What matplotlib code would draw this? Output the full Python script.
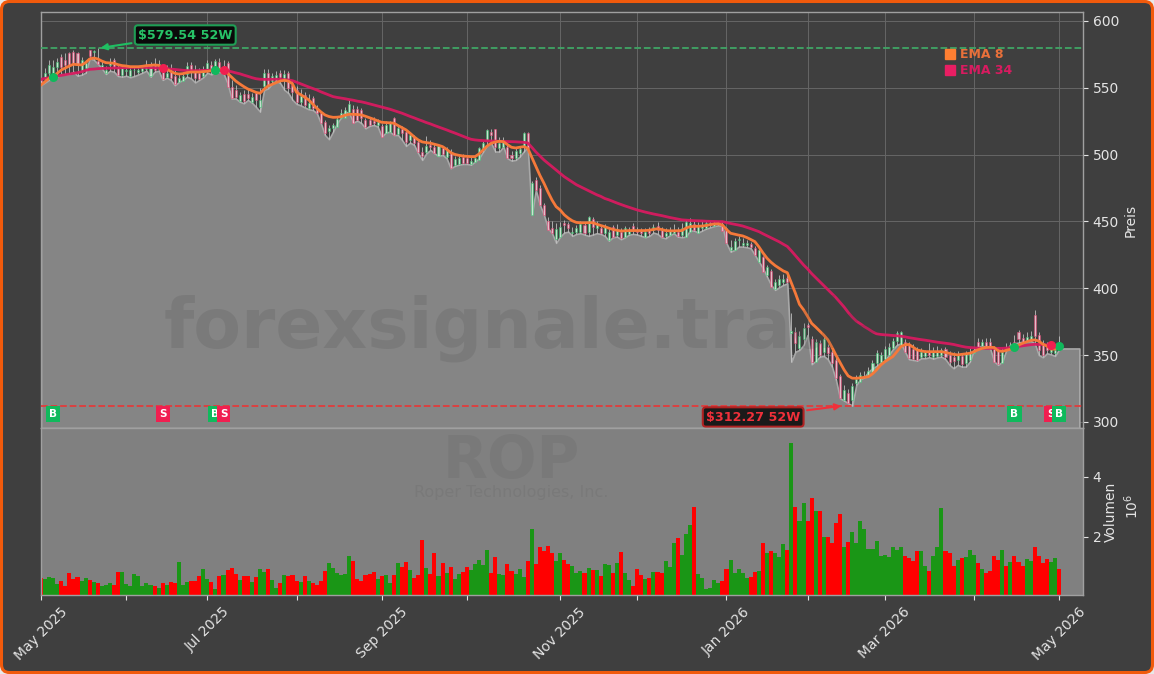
"""Price and volume chart for ROP with EMA lines and 52 week levels."""

import matplotlib
matplotlib.use("Agg")
import matplotlib.pyplot as plt
from matplotlib.lines import Line2D
from matplotlib.patches import FancyBboxPatch

month_ticks = [0, 21, 41, 63, 84, 105, 128, 147, 169, 189, 208, 230, 251]
month_labels = ["May 2025", "", "Jul 2025", "", "Sep 2025", "", "Nov 2025", "",
                "Jan 2026", "", "Mar 2026", "", "May 2026"]

volume = [
    0.62, 0.6, 0.67, 0.63, 0.43, 0.53, 0.37, 0.8, 0.6, 0.67,
    0.53, 0.63, 0.57, 0.5, 0.47, 0.37, 0.4, 0.47, 0.4, 0.83,
    0.83, 0.43, 0.37, 0.77, 0.7, 0.37, 0.47, 0.4, 0.37, 0.3,
    0.47, 0.4, 0.5, 0.47, 1.17, 0.4, 0.5, 0.53, 0.53, 0.7,
    0.93, 0.6, 0.5, 0.27, 0.7, 0.73, 0.9, 0.97, 0.77, 0.57,
    0.7, 0.7, 0.5, 0.67, 0.93, 0.83, 0.93, 0.57, 0.3, 0.47,
    0.73, 0.7, 0.73, 0.53, 0.5, 0.7, 0.53, 0.47, 0.4, 0.53,
    0.87, 1.13, 0.95, 0.8, 0.72, 0.75, 1.35, 1.2, 0.6, 0.55,
    0.72, 0.78, 0.82, 0.6, 0.7, 0.73, 0.47, 0.73, 1.13, 1.0,
    1.17, 0.9, 0.63, 0.73, 1.9, 0.97, 0.77, 1.47, 0.7, 1.13,
    0.8, 1.0, 0.6, 0.77, 0.83, 1.0, 0.9, 1.1, 1.23, 1.07,
    1.57, 0.8, 1.33, 0.77, 0.73, 1.1, 0.87, 0.77, 0.93, 0.67,
    1.2, 2.27, 1.1, 1.67, 1.53, 1.7, 1.47, 1.2, 1.47, 1.23,
    1.1, 1.03, 0.8, 0.87, 0.8, 0.97, 0.9, 0.9, 0.7, 1.1,
    1.07, 0.8, 1.13, 1.5, 0.8, 0.57, 0.37, 0.93, 0.73, 0.6,
    0.63, 0.83, 0.83, 0.8, 1.2, 1.0, 1.8, 1.97, 1.4, 2.1,
    2.4, 3.0, 0.77, 0.63, 0.27, 0.3, 0.57, 0.47, 0.53, 0.93,
    1.23, 0.8, 0.93, 0.8, 0.63, 0.67, 0.83, 0.87, 1.8, 1.47,
    1.53, 1.47, 1.33, 1.77, 1.57, 5.13, 3.0, 2.53, 3.13, 2.53,
    3.3, 2.87, 2.87, 2.0, 2.0, 1.8, 2.47, 2.77, 1.67, 1.83,
    2.17, 1.8, 2.53, 2.27, 1.6, 1.6, 1.87, 1.37, 1.4, 1.33,
    1.67, 1.57, 1.67, 1.37, 1.3, 1.2, 1.53, 1.53, 1.03, 0.87,
    1.37, 1.67, 2.97, 1.53, 1.47, 1.03, 1.23, 1.3, 1.33, 1.57,
    1.4, 1.13, 0.93, 0.8, 0.87, 1.37, 1.23, 1.57, 1.03, 1.17,
    1.37, 1.17, 1.03, 1.27, 1.2, 1.67, 1.37, 1.13, 1.27, 1.17,
    1.3, 0.93,
]

# g = up day, r = down day
direction = (
    "rggggrrrrr" "ggrgrgggrr" "ggggggggrg" "rgrrgggrrr" "ggrgrgrrrg"
    "rrgrggrggr" "grrrgrgrrr" "rggggggrrr" "rrrg"
    "rggrgrrgrr" "rgrrgrgrgg" "rrgggggrrg" "grrgggrgrr" "rrrggrrggg"
    "rgrgrggrgr" "ggrrrgrgrr" "gggrgggrgg" "ggggrrgggg" "grrgrgrggg"
    "rgrggrrgrg" "rrrrgrgggg" "gggggggggr" "rrrggrgggr" "rrgrgggrgr"
    "rrrgrgrrrg" "grrrrggr"
)

lows = [
    552, 554, 556, 556.4, 558.3, 560.3, 559.8, 560.3, 562, 559,
    559.8, 561.3, 572, 571, 568, 564.6, 560.3, 562.8, 562, 558.8,
    558.3, 559, 557.9, 558.8, 560, 561.3, 562.8, 558.3, 562, 562.8,
    555.9, 557.6, 555.9, 551.9, 554.4, 555.9, 558.3, 557, 554, 555.9,
    557.9, 561.3, 560, 562, 562, 560.8, 553.4, 542, 542, 539.6,
    538.4, 540.9, 538.9, 535.7, 532.2, 548.4, 549.6, 553.4, 555.4, 553.4,
    548.4, 546, 541, 537.9, 536.9, 535.4, 533.9, 533.4, 531, 523.5,
    514.7, 511.5, 517.2, 523.5, 527.9, 532.2, 531, 524, 525.5, 523.5,
    519.7, 521.5, 522.2, 521, 513.5, 516.5, 517.2, 514.7, 514.7, 511,
    506.5, 509, 507.2, 501, 496, 501, 503.5, 501, 499, 499.8,
    497.3, 489.8, 491.5, 492.5, 493, 493, 492.5, 494.8, 497.3, 502.3,
    507.2, 508.5, 502.3, 502.3, 506, 497.3, 495.5, 496, 498.5, 502.3,
    506, 454.9, 473.6, 462.4, 454.9, 444.9, 441.2, 434, 438.7, 441.7,
    442.4, 439.2, 440.7, 441.2, 440.2, 439.2, 440.2, 441.2, 440.7, 439.2,
    435.7, 438.2, 438.7, 436.7, 438.2, 440.2, 440.7, 440.2, 439.2, 438.2,
    439.2, 441.7, 440.7, 438.2, 437.4, 439.7, 441.2, 438.7, 438.2, 438.7,
    443.2, 443.2, 441.7, 443.2, 444.7, 445.6, 446.6, 447.1, 446.6, 433.7,
    427.4, 428.7, 431.2, 431.2, 430.7, 429.9, 424.9, 420, 415, 408.7,
    402.5, 398.8, 400.8, 402.5, 403.7, 345.1, 352.6, 353.9, 357.6, 365,
    343.2, 345.7, 348.9, 349.4, 346.9, 341.4, 331.4, 317.7, 316, 314,
    312.3, 327.7, 332, 333.4, 337.7, 340.2, 341.9, 344.4, 345.9, 350.1,
    354.4, 357.6, 358.9, 352.6, 346.9, 346.4, 345.9, 347.7, 347.7, 348.4,
    347.4, 348.4, 348.9, 346.9, 342.7, 340.2, 342.7, 341.4, 341.4, 345.2,
    353.9, 356.4, 356.9, 356.4, 355.1, 345.2, 342.7, 345.2, 353.9, 357.6,
    358.9, 359.4, 360.1, 360.1, 360.6, 358.9, 350.1, 348.4, 351.4, 350.6,
    349.4, 354.4,
]
# flat stretch of the area after the last bar
area_tail = [355, 355, 355, 355, 355]

body_low = [
    553, 558.3, 560.8, 560.8, 565.8, 565.8, 567, 567, 568.3, 567,
    562, 564.6, 573.5, 576.5, 568, 565, 561, 566.8, 565.8, 559.6,
    559.6, 562.4, 559, 563, 562, 562.5, 564, 559, 563, 564,
    556.3, 558.3, 557.3, 552.5, 554.6, 555.3, 560, 563.3, 557, 556.5,
    559, 563.8, 563.3, 563, 563, 562, 550.8, 542, 543, 540.4,
    540.4, 542, 539.6, 540.9, 536, 551.3, 552, 555, 554.6, 558,
    556.5, 549.6, 547, 539, 539, 537, 535, 534.7, 531.4, 524,
    516, 518, 519.7, 520.5, 527.2, 527.2, 532.2, 524, 526, 527.2,
    520.5, 522.2, 523.5, 522.2, 513.5, 516, 517.2, 514.7, 515.2, 516,
    509.7, 511, 509, 501.8, 499, 501.8, 505.5, 501.5, 499, 500.5,
    498.5, 489.8, 492.3, 493, 493.5, 494, 493, 494.8, 496, 503.5,
    511, 514.7, 506, 504.8, 506, 497.3, 497.3, 497.3, 501, 506,
    504.8, 454.9, 473.6, 462.4, 454.9, 443.6, 441.2, 436.7, 438.7, 447.4,
    444.9, 441.2, 442.4, 442.4, 441.2, 442.4, 445.6, 444.9, 441.2, 441.2,
    436.2, 438.7, 439.9, 437.4, 438.7, 440.7, 443.7, 442.4, 441.7, 438.2,
    441.2, 443.7, 443.7, 438.7, 439.2, 439.9, 441.2, 439.2, 439.9, 438.7,
    442.4, 443.7, 441.2, 444.9, 444.9, 447.4, 446.6, 448.1, 443.2, 433.7,
    428.7, 428.7, 436.2, 432.4, 432.7, 431.2, 424.9, 420, 412.5, 410,
    400.8, 399.3, 402.5, 404.5, 405, 366.5, 359.4, 355.1, 361.9, 371.3,
    345.2, 345.2, 350.1, 352.6, 351.4, 344, 332.7, 317.7, 316.5, 314,
    316.5, 329, 330.2, 333.4, 334.4, 337.7, 344.4, 345.2, 347, 350.1,
    355.1, 360.9, 357.6, 352.6, 347.7, 347, 346.4, 348.4, 349, 350.2,
    348.4, 349.4, 350.1, 348.9, 345.2, 345.9, 346.4, 343.4, 343.9, 346.4,
    351.4, 356.4, 357, 356.4, 355.1, 345.2, 343.2, 343.9, 353.9, 355.1,
    357.6, 361.9, 360.1, 360.1, 361.4, 364.4, 353.9, 350.1, 353.9, 352.6,
    351.4, 354.4,
]

body_high = [
    556, 560.8, 567, 565.3, 569.5, 573.3, 570.8, 575.8, 577, 575.8,
    570.8, 568.3, 578, 577.2, 569.7, 567, 563.5, 569.5, 570.8, 565.8,
    564.6, 563, 563.3, 563.5, 563.5, 565, 567, 566, 567, 568,
    563.3, 561.3, 562, 559, 557.6, 559, 566, 567, 563, 561,
    563, 568.3, 567, 570, 569, 566, 568.3, 550.8, 548, 544.6,
    545.4, 545, 542.9, 545.9, 541, 560.8, 561.3, 559, 559.6, 561,
    560, 560.8, 552, 548, 544, 544.5, 538.4, 542.2, 533.9, 531.4,
    524.7, 520.2, 522.2, 526.4, 530.9, 533.4, 537.9, 534.2, 534.2, 533.4,
    525.9, 525.9, 525.5, 524.7, 521.5, 522.2, 523.5, 527.2, 520.2, 519,
    516.7, 514.7, 513, 509.7, 502.3, 506.8, 507.2, 506, 506.5, 504.8,
    503.5, 502.3, 496.8, 497.8, 498.5, 497.3, 495.3, 497.3, 504.8, 508.5,
    518.5, 517.2, 519, 508.5, 509.7, 506, 499.8, 502.8, 504, 516,
    516.5, 478.6, 481, 474.8, 462.4, 450.4, 444.9, 444.2, 445.6, 448.6,
    448.1, 442.4, 444.9, 448.1, 447.4, 453.1, 451.6, 448.1, 444.9, 445.6,
    442.4, 446.1, 443.7, 442.4, 444.9, 443.7, 446.6, 443.2, 443.7, 442.4,
    443.7, 446.1, 446.6, 443.7, 441.2, 443.2, 443.7, 442.4, 444.9, 449.9,
    448.6, 448.1, 447.4, 447.4, 449.1, 449.1, 449.1, 449.1, 448.1, 444.9,
    430.7, 435.7, 437.2, 433.7, 433.7, 432.9, 429.9, 428.7, 423.2, 416.2,
    413.2, 405, 407, 407, 407.5, 368.3, 367.6, 364.3, 370.1, 372.6,
    361.9, 360.1, 358.9, 361.9, 356.4, 352.6, 346.4, 334.4, 324, 321.5,
    327, 332, 335.2, 334.4, 338.2, 343.9, 351.4, 350.1, 354.4, 355.9,
    360.9, 366.4, 367, 360, 357.6, 354.4, 353.9, 352.6, 352.6, 353.4,
    352.6, 353.4, 353.9, 354.4, 350.1, 348.9, 350.1, 349.4, 351.4, 352.6,
    353.9, 360.1, 360.1, 360.1, 360.1, 355.1, 353.9, 352.6, 355.1, 357.6,
    360.1, 367.6, 362.6, 363.4, 364.4, 380, 365.1, 358.9, 356.4, 355.1,
    353.9, 355.9,
]

highs = [
    559, 564.6, 570.8, 570.8, 572, 575, 575.8, 577, 578.3, 577,
    573, 570.8, 578.5, 578, 579.54, 571, 566, 572, 572.5, 567.5,
    566, 566, 565.5, 566, 565, 566.5, 571, 569.5, 572, 571,
    566.5, 567, 568, 563, 561, 562, 569, 569.5, 567, 565,
    566, 570.5, 570, 571.5, 572.5, 571, 570, 556, 552, 547,
    548, 549, 546, 547, 550, 564, 564, 561, 562.5, 563.5,
    563, 562.5, 556, 551, 549, 547, 545, 544, 537, 533,
    526, 522, 524, 528, 534, 536, 541, 537, 536.5, 535,
    527.5, 528, 528, 527, 523, 525, 525.5, 528, 522, 521.5,
    518.5, 517, 515, 511, 505.5, 514, 511, 509, 508, 506.5,
    505.5, 504, 499, 499.5, 500.5, 500, 498, 500, 506, 510,
    519, 519, 519.5, 513, 513, 507.5, 503, 505, 506.5, 517,
    517, 480, 483, 477, 464, 453, 450, 449, 449.5, 451,
    449.5, 446, 447, 450, 449.5, 454, 453.5, 450, 447, 448,
    445, 447, 448, 445, 446.5, 445.5, 449, 446, 445, 445,
    446, 448, 449.5, 446, 445, 446, 448, 446, 449, 451,
    452.5, 450.5, 449.5, 450, 450, 450, 450, 450, 449.5, 446,
    436.2, 438, 439, 438, 436, 435, 431.5, 430.5, 424.5, 417.5,
    414.5, 407, 410, 411, 411, 381.8, 371, 368, 373.8, 374.3,
    364, 362, 361, 364, 358, 355, 349, 336, 328, 325,
    329, 335, 337.5, 338, 341, 346, 354, 352, 357, 359,
    363, 368, 368, 362, 360, 358, 356, 355, 354, 359,
    356, 357, 355.5, 356, 353, 352, 353, 351.5, 353, 355,
    356, 363, 362, 363, 362.5, 357, 356, 355.5, 359, 360,
    365, 369, 366, 367, 368, 383.5, 367, 361, 360, 358,
    356, 364,
]

ema8 = [
    552.1, 554.6, 557.1, 558.8, 560.8, 563.3, 564.8, 566.3, 567.6, 567.3,
    567.1, 568.8, 571.6, 572.3, 571.6, 570, 568.8, 568.6, 568.3, 567.3,
    566.6, 566.3, 565.8, 565.8, 565.8, 566.1, 566.6, 566.8, 567.1, 566.8,
    565.3, 563.8, 562.3, 560.8, 560.3, 560.6, 561.3, 561.8, 561.8, 561.8,
    562.1, 562.3, 562.8, 563.8, 563.8, 563.1, 560.8, 557.9, 555.1, 552.9,
    550.9, 549.1, 547.9, 546.6, 545.9, 548.9, 551.4, 552.6, 553.9, 555.1,
    555.6, 555, 553, 546.6, 544.9, 543, 541, 537.8, 534.7, 532,
    529.7, 528.5, 527.9, 528, 528.4, 529.5, 530.2, 530.2, 530, 529.7,
    528.7, 527.6, 526.5, 525.3, 524.2, 524, 523.8, 523.5, 521.8, 520.2,
    518.5, 516, 513.3, 511, 509.5, 509, 508.6, 507.8, 507, 506,
    504, 501.5, 500.2, 499.5, 499, 498.7, 498.5, 498.5, 500.5, 503.5,
    506.5, 508.5, 509.5, 510, 509.7, 507.5, 505.5, 505, 505.5, 506,
    504.8, 498, 491, 484.5, 478.6, 472, 466, 461.1, 458.6, 455,
    452.5, 450.5, 449.3, 449, 449, 449.1, 449.1, 448, 447, 446.1,
    445, 444, 443.4, 442.9, 443, 443.2, 443.2, 443.2, 443.2, 443.2,
    443.5, 444, 444.6, 444, 443.2, 443, 443, 443.1, 443.2, 445,
    446.1, 446.3, 446.4, 446.6, 447, 447.6, 448.1, 448.2, 447.4, 444,
    441.2, 440.5, 439.8, 439.2, 438, 436.5, 434.9, 431, 426.5, 422.5,
    419.5, 417, 415, 413, 411.7, 404, 396.3, 388, 384, 379,
    373.8, 371, 368, 365, 361.5, 356, 350, 344.5, 339, 334.5,
    332.8, 332.7, 333, 333.4, 333.9, 336, 339, 342.5, 345, 347,
    348.9, 352.5, 356.4, 357.8, 358, 356, 353.9, 353.2, 352.6, 352.6,
    352.6, 352.6, 352.6, 352, 351.3, 350.6, 350.2, 350.6, 351, 351.4,
    352.6, 354, 355.1, 355.7, 355.9, 355.7, 353.2, 352.8, 353.6, 354.4,
    356, 357.5, 358.9, 360, 361, 361.4, 360.5, 358.2, 356.8, 354.5,
    354.5, 356.4,
]

ema34 = [
    556.4, 557, 557.6, 558.3, 558.8, 559.3, 559.8, 560.3, 560.8, 561.3,
    562, 563, 563.8, 564, 564.3, 564.5, 564.6, 564.7, 564.8, 564.9,
    565, 565.1, 565.2, 565.3, 565.3, 565.3, 565.2, 565.1, 565, 564.8,
    564.6, 564.3, 564, 563.7, 563.4, 563.1, 562.9, 562.8, 562.8, 562.9,
    563, 563.1, 563.2, 563.3, 563.3, 563.3, 562.7, 562, 561.2, 560.5,
    559.5, 558.6, 557.6, 556.8, 556.4, 556.3, 556.3, 556.4, 556.4, 556.3,
    556.1, 555.9, 555.3, 554.2, 553, 551.8, 550.6, 549.5, 548.4, 547,
    545.8, 544.6, 543.4, 542.8, 542.3, 541.8, 541.2, 540.7, 540, 539.5,
    538.8, 538, 537.2, 536.4, 535.6, 534.8, 534, 533, 532, 531,
    529.8, 528.6, 527.5, 526.3, 525.2, 524, 523, 521.8, 520.7, 519.6,
    518.5, 517.3, 516.2, 515, 513.8, 512.6, 511.5, 511, 510.7, 510.5,
    510.3, 510.2, 510.1, 510, 509.9, 509.8, 509.7, 509.6, 509.4, 509.2,
    508.8, 505.5, 502, 499, 496, 493.5, 491, 488.5, 486, 483.5,
    481.5, 479.5, 477.5, 476, 474.5, 473, 471.5, 470, 468.8, 467.2,
    466.2, 465, 463.8, 462.7, 461.6, 460.6, 459.6, 458.6, 457.8, 457,
    456.3, 455.6, 455, 454.4, 453.7, 453, 452.4, 451.8, 451.2, 451,
    450.8, 450.6, 450.5, 450.4, 450.2, 450.1, 450, 449.9, 449.9, 449.2,
    448.5, 447.9, 447.3, 446.6, 445.6, 444.6, 443.5, 442.4, 440.8, 439.3,
    437.8, 436.3, 434.8, 433, 431.3, 428, 424.5, 421, 417.5, 414.5,
    411, 408, 405, 402, 399, 396, 393, 389.5, 386, 382,
    378.5, 375.5, 373.5, 371.3, 369.5, 367.5, 366, 365.5, 365.2, 365,
    364.7, 364.5, 364.2, 363.7, 363.1, 362.6, 362.1, 361.6, 361.2, 360.7,
    360.2, 359.7, 359.3, 358.9, 358.5, 358, 357.3, 356.6, 356, 355.7,
    355.5, 355.3, 355.2, 355.1, 355.1, 355.1, 355.1, 355.1, 355.3, 355.7,
    356, 356.5, 357, 357.4, 357.8, 358.1, 358, 357.9, 357.7, 357.5,
    357.3, 357,
]

buy_signals = [3, 43, 240, 251]
sell_signals = [30, 45, 249]
high_52w = 579.54
high_52w_bar = 14
low_52w = 312.27
low_52w_bar = 198

BG = "#3f3f3f"
AREA = "#858585"
GREEN = "#10b95c"
RED = "#f01f50"
ORANGE = "#f5793a"
PINK = "#d81b60"
TEXT = "#e4e4e4"

bars = list(range(len(lows)))
area_x = list(range(len(lows) + len(area_tail)))

fig = plt.figure(figsize=(11.54, 6.74), dpi=100, facecolor="#e8e8e8")
fig.add_artist(FancyBboxPatch((1.5, 1.5), 1151, 671, boxstyle="round,pad=0,rounding_size=8",
                              transform=None, facecolor=BG, edgecolor="#f15a0c", linewidth=2.2,
                              zorder=-1))

# pixel box of the reference, origin top left
W, H = 1154.0, 674.0
ax = fig.add_axes([41 / W, 1 - 428 / H, 1042 / W, 416 / H], facecolor=BG)
ax_vol = fig.add_axes([41 / W, 1 - 595 / H, 1042 / W, 167 / H], facecolor="#808080", sharex=ax)

# price panel
ax.grid(True, color="#666666", linewidth=0.7, zorder=0)
ax.set_axisbelow(True)
ax.fill_between(area_x, lows + area_tail, 295.5, facecolor=AREA, edgecolor="#a8a8a8",
                linewidth=1.2, zorder=1)

ax.vlines(bars, lows, highs, color="#c8c8c8", linewidth=0.7, alpha=0.8, zorder=2)
for i in bars:
    up = direction[i] == "g"
    ax.bar(i, body_high[i] - body_low[i], bottom=body_low[i], width=0.5, zorder=3,
           facecolor="#cdeed8" if up else "#f2c4d2",
           edgecolor="#35c46d" if up else "#e0406e", linewidth=0.45, alpha=0.8)

ax.plot(bars, ema34, color=PINK, linewidth=2, alpha=0.95, zorder=4)
ax.plot(bars, ema8, color=ORANGE, linewidth=2, zorder=5)

ax.axhline(high_52w, color="#3fa565", linestyle="--", linewidth=1.3, zorder=4)
ax.axhline(low_52w, color="#e23b3b", linestyle="--", linewidth=1.3, zorder=4)

ax.scatter(buy_signals, [ema34[i] for i in buy_signals], s=30, color=GREEN, zorder=6)
ax.scatter(sell_signals, [ema34[i] for i in sell_signals], s=30, color=RED, zorder=6)

# later bars sit on top, so B/S badges are drawn in bar order
for i in sorted(buy_signals + sell_signals):
    is_buy = i in buy_signals
    ax.text(i, 306, "B" if is_buy else "S", color="white", fontsize=7.5, fontweight="bold",
            ha="center", va="center", zorder=7,
            bbox=dict(boxstyle="square,pad=0.3", fc=GREEN if is_buy else RED, ec="none"))

ax.annotate(f"${high_52w:.2f} 52W", xy=(high_52w_bar, high_52w), xytext=(138, 639),
            textcoords="figure pixels", color="#27c267", fontsize=9.2, fontweight="bold",
            va="center", zorder=8,
            bbox=dict(boxstyle="round,pad=0.25", fc="#0a0a0a", ec="#1f9e55", lw=1.5),
            arrowprops=dict(arrowstyle="-|>", color="#1fbf62", lw=1.5))
ax.annotate(f"${low_52w:.2f} 52W", xy=(low_52w_bar, low_52w), xytext=(706, 257),
            textcoords="figure pixels", color="#f0303a", fontsize=9.2, fontweight="bold",
            va="center", zorder=8,
            bbox=dict(boxstyle="round,pad=0.25", fc="#1a1a1a", ec="#b02222", lw=1.5),
            arrowprops=dict(arrowstyle="-|>", color="#f0303a", lw=1.5))

ax.text(0.465, 0.24, "forexsignale.trade", transform=ax.transAxes, color="#3f3f3f", alpha=0.15,
        fontsize=50, fontweight="bold", ha="center", va="center", zorder=6)

handles = [Line2D([], [], linestyle="", marker="s", markersize=6.5, color="#ff7f32"),
           Line2D([], [], linestyle="", marker="s", markersize=6.5, color="#e91e63")]
leg = ax.legend(handles, ["EMA 8", "EMA 34"], loc="upper right", bbox_to_anchor=(0.943, 0.94),
                frameon=False, prop={"size": 9, "weight": "bold"}, handletextpad=-0.2,
                labelspacing=0.25)
leg.set_zorder(9)
for txt, col in zip(leg.get_texts(), ["#e8703a", "#d81b60"]):
    txt.set_color(col)

ax.set_xlim(0, 256.9)
ax.set_ylim(295.5, 606.7)
ax.yaxis.tick_right()
ax.yaxis.set_label_position("right")
ax.set_yticks([300, 350, 400, 450, 500, 550, 600])
ax.set_ylabel("Preis", color=TEXT, fontsize=10, labelpad=3)
ax.tick_params(axis="y", colors=TEXT, labelsize=10)
ax.tick_params(axis="x", bottom=False, labelbottom=False)

# volume panel
for i in bars:
    ax_vol.bar(i, volume[i], width=1.0, color="#ff0000" if direction[i] == "r" else "#1a9616", zorder=2)

ax_vol.set_ylim(0.067, 5.63)
ax_vol.yaxis.tick_right()
ax_vol.yaxis.set_label_position("right")
ax_vol.set_yticks([2, 4])
ax_vol.set_ylabel("Volumen", color=TEXT, fontsize=10, labelpad=2)
ax_vol.tick_params(axis="y", colors=TEXT, labelsize=10)
ax_vol.set_xticks(month_ticks)
ax_vol.set_xticklabels(month_labels, rotation=45, ha="center", color=TEXT, fontsize=10)
ax_vol.tick_params(axis="x", colors=TEXT)
fig.text(1132 / W, 1 - 506 / H, "$10^6$", color=TEXT, fontsize=10, rotation=90, ha="center", va="center")

ax_vol.text(0.451, 0.8, "ROP", transform=ax_vol.transAxes, color="#3f3f3f", alpha=0.1,
            fontsize=42, fontweight="bold", ha="center", va="center")
ax_vol.text(0.451, 0.615, "Roper Technologies, Inc.", transform=ax_vol.transAxes, color="#3f3f3f",
            alpha=0.1, fontsize=11.5, ha="center", va="center")

for a in (ax, ax_vol):
    for side in a.spines.values():
        side.set_color("#a0a0a0")
        side.set_linewidth(1.0)

fig.savefig("out.png", dpi=100, facecolor=fig.get_facecolor())
plt.close(fig)
